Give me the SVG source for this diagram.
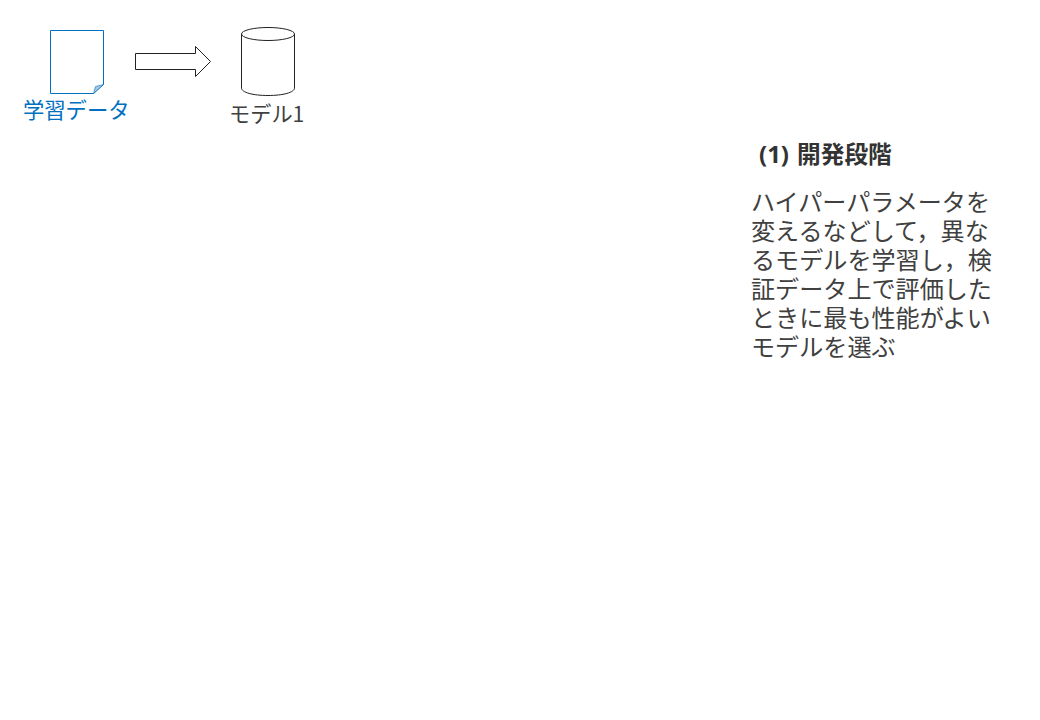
<svg xmlns="http://www.w3.org/2000/svg" width="1040" height="720" viewBox="0 0 1040 720">
<style>
text{font-family:"Noto Sans CJK JP","Noto Sans",sans-serif;font-weight:400;fill:#404040}
.b{font-size:24.100px}
.h{font-weight:700;fill:#333;font-family:"Open Sans","Noto Sans CJK JP",sans-serif;font-size:24px}
.k{font-family:"Noto Sans CJK JP",sans-serif;font-size:23.700px}
.o{fill:#fff;stroke:#222;stroke-width:1}
</style>
<rect width="1040" height="720" fill="#fff"/>
<g id="doc">
<path d="M50.500 30.500H103.500V84.500L93.500 93.500H50.500Z" fill="#fff" stroke="#0070c0" stroke-width="1"/>
<path d="M103.500 84.500L93.500 93.500L95.500 86.500Z" fill="#a9c8e4" stroke="#0070c0" stroke-width="0.600"/>
<text x="23" y="118" style="fill:#0070c0;font-size:21.300px">学習データ</text>
</g>
<g id="connectors">
<path class="o" d="M135.500 53.500H195.500V46.500L210.500 61.500L195.500 76.500V69.500H135.500Z"/>
</g>
<g id="model">
<path class="o" d="M241.500 34V88C241.500 92.500 253 95.500 268 95.500S294.500 92.500 294.500 88V34"/>
<ellipse class="o" cx="268" cy="34" rx="26.500" ry="6.500"/>
<text x="229" y="122" style="font-size:21.200px">モデル1</text>
</g>
<g id="note">
<text x="759" y="163" class="h">(1)<tspan x="797" class="k">開発段階</tspan></text>
<text x="751" y="211" class="b">ハイパーパラメータを</text>
<text x="751" y="240" class="b">変えるなどして，異な</text>
<text x="751" y="269" class="b">るモデルを学習し，検</text>
<text x="751" y="298" class="b">証データ上で評価した</text>
<text x="751" y="327" class="b">ときに最も性能がよい</text>
<text x="751" y="356" class="b">モデルを選ぶ</text>
</g>
</svg>
